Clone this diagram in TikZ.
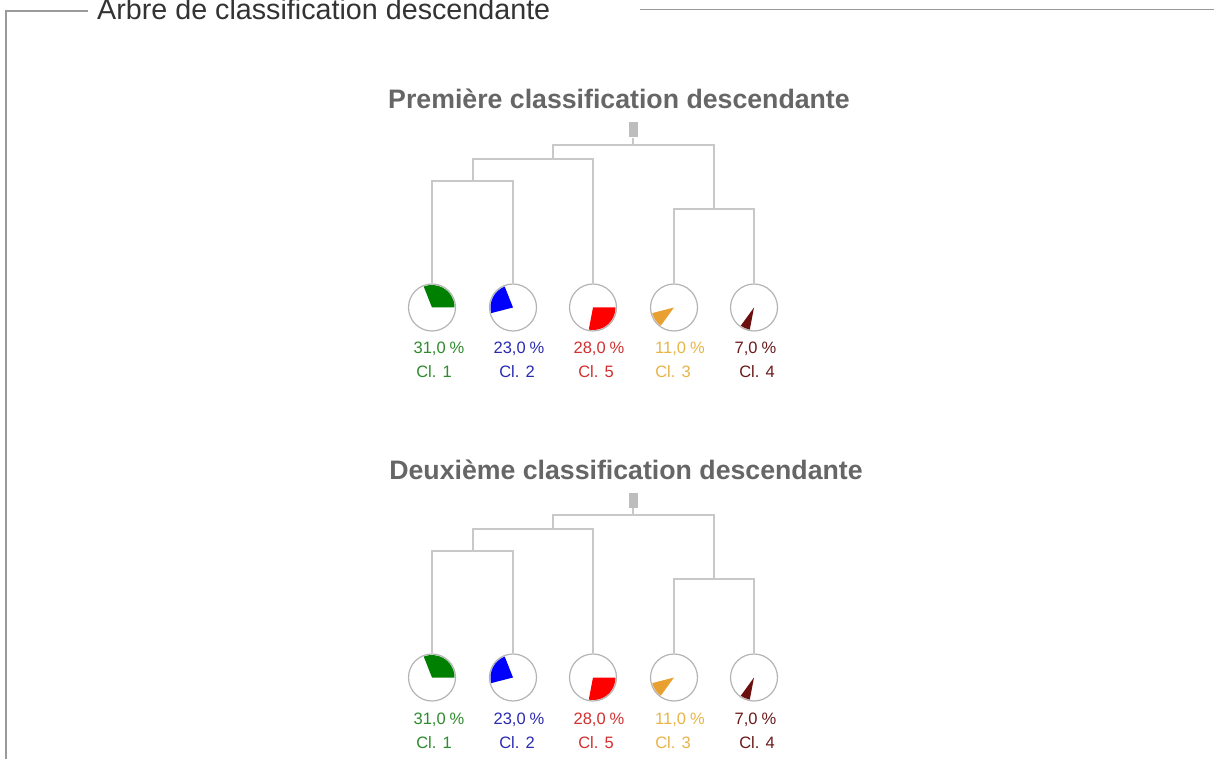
\documentclass[tikz,border=0pt]{standalone}
\usepackage{fontspec}
\setmainfont{Liberation Sans}
\definecolor{framec}{HTML}{9A9A9A}
\definecolor{legendc}{HTML}{333333}
\definecolor{titlec}{HTML}{666666}
\definecolor{treec}{HTML}{C8C8C8}
\definecolor{piec}{HTML}{B4B4B4}
\definecolor{rootc}{HTML}{BDBDBD}
\definecolor{cone}{HTML}{008000}
\definecolor{ctwo}{HTML}{0000FF}
\definecolor{cfive}{HTML}{FF0000}
\definecolor{cthree}{HTML}{E8A030}
\definecolor{cfour}{HTML}{6B0F0F}
\definecolor{tone}{HTML}{2E8B2E}
\definecolor{ttwo}{HTML}{2B2BB0}
\definecolor{tfive}{HTML}{D23030}
\definecolor{tthree}{HTML}{E8B448}
\definecolor{tfour}{HTML}{6A1A1A}
\tikzset{
  frameline/.style={draw=framec, line width=1.6pt},
  treeline/.style={draw=treec, line width=1.6pt},
  pienode/.style={circle, draw=piec, line width=1.2pt, fill=white, minimum size=47pt, inner sep=0pt},
  rootnode/.style={rectangle, fill=rootc, minimum width=9pt, minimum height=15pt, inner sep=0pt},
  pcttext/.style={anchor=base, inner sep=0pt, font=\fontsize{16.5}{18}\selectfont},
  titletext/.style={anchor=base, inner sep=0pt, text=titlec, font=\fontsize{26.7}{30}\selectfont\bfseries},
}
\newcommand{\cdpct}[1]{#1\hspace{4pt}\%}
\newcommand{\cdsector}[4]{%
  \fill[#2] (#1.center) -- ++(#3:22.5pt) arc[start angle=#3, end angle=#4, radius=22.5pt] -- cycle;}
\newcommand{\cdtree}[4]{%
\begin{scope}[yshift=#2]
  \node[titletext] (#1title) at (#4,649) {#3};
  \node[rootnode] (#1root) at (633,628) {};
  \node[pienode] (#1p1) at (432,450.5) {};
  \node[pienode] (#1p2) at (513,450.5) {};
  \node[pienode] (#1p5) at (593,450.5) {};
  \node[pienode] (#1p3) at (674,450.5) {};
  \node[pienode] (#1p4) at (754,450.5) {};
  \coordinate (#1n1) at (633,613);
  \coordinate (#1n2) at (553,599);
  \coordinate (#1n3) at (473,577);
  \coordinate (#1n4) at (714,549);
  \draw[treeline] (#1p1.north) |- (#1n3) -| (#1p2.north);
  \draw[treeline] (#1n3) |- (#1n2) -| (#1p5.north);
  \draw[treeline] (#1p3.north) |- (#1n4) -| (#1p4.north);
  \draw[treeline] (#1n2) |- (#1n1) -| (#1n4);
  \draw[treeline] (#1n1) -- (#1root.south);
  \cdsector{#1p1}{cone}{0}{111.6}
  \cdsector{#1p2}{ctwo}{111.6}{194.4}
  \cdsector{#1p3}{cthree}{194.4}{234}
  \cdsector{#1p4}{cfour}{234}{259.2}
  \cdsector{#1p5}{cfive}{259.2}{360}
  \node[pcttext, text=tone]   (#1v1) at (439,404) {\cdpct{31,0}};
  \node[pcttext, text=ttwo]   (#1v2) at (519,404) {\cdpct{23,0}};
  \node[pcttext, text=tfive]  (#1v5) at (599,404) {\cdpct{28,0}};
  \node[pcttext, text=tthree] (#1v3) at (680,404) {\cdpct{11,0}};
  \node[pcttext, text=tfour]  (#1v4) at (755.5,404) {\cdpct{7,0}};
  \node[pcttext, text=tone]   (#1c1) at (434,380) {Cl. 1};
  \node[pcttext, text=ttwo]   (#1c2) at (517,380) {Cl. 2};
  \node[pcttext, text=tfive]  (#1c5) at (596,380) {Cl. 5};
  \node[pcttext, text=tthree] (#1c3) at (673,380) {Cl. 3};
  \node[pcttext, text=tfour]  (#1c4) at (757,380) {Cl. 4};
\end{scope}}
\begin{document}
\begin{tikzpicture}[x=1pt,y=1pt]
  \useasboundingbox (0,0) rectangle (1214,758);
  \fill[white] (0,0) rectangle (1214,758);
  % frame
  \coordinate (fa) at (6,-2);
  \coordinate (fb) at (6,747);
  \coordinate (fc) at (88,747);
  \coordinate (fd) at (640,748.5);
  \coordinate (fe) at (1216,748.5);
  \draw[frameline] (fa) -- (fb) -- (fc);
  \draw[frameline] (fd) -- (fe);
  \node[anchor=base west, inner sep=0pt, text=legendc, font=\fontsize{28.7}{32}\selectfont] (legend) at (97,738) {Arbre de classification descendante};
  \cdtree{a}{0pt}{Première classification descendante}{619}
  \cdtree{b}{-370pt}{Deuxième classification descendante}{626}
\end{tikzpicture}
\end{document}
